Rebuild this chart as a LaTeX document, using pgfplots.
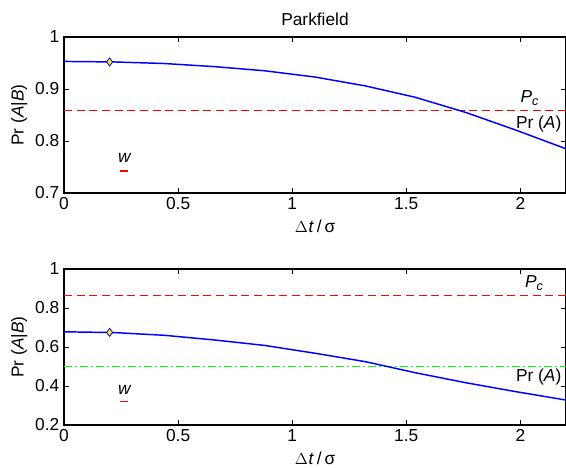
\documentclass[border=0pt]{standalone}
\usepackage{fontspec}
\setmainfont{Liberation Sans}
\usepackage{pgfplots}
\pgfplotsset{compat=1.18}
\newcommand\ff{\fontsize{13}{15}\selectfont}
\definecolor{mred}{RGB}{254,0,0}
\pgfplotsset{
  mstyle/.style={
    width=376.5pt, height=117pt, scale only axis,
    xmin=0, xmax=2.2,
    xtick={0,0.5,1,1.5,2},
    tick align=inside, major tick length=3.5pt,
    axis line style={line width=0.8pt},
    every tick/.style={black, line width=0.6pt},
    tick label style={font=\ff},
    label style={font=\ff},
    /pgf/number format/assume math mode=true,
    xlabel={$\Delta$\kern0.5pt\textit{t}\,/\,σ},
    ylabel={Pr (\textit{A}|\textit{B})},
    xlabel style={yshift=-0.5pt},
    ylabel style={yshift=-1pt},
    clip=false,
  },
}
\pgfplotstableread{
x y
0.00 0.953
0.22 0.952
0.44 0.949
0.66 0.943
0.88 0.935
1.10 0.923
1.32 0.906
1.54 0.884
1.76 0.855
1.98 0.821
2.20 0.785
}\toptable
\pgfplotstableread{
x y
0.00 0.678
0.22 0.674
0.44 0.660
0.66 0.636
0.88 0.608
1.10 0.568
1.32 0.525
1.54 0.468
1.76 0.417
1.98 0.371
2.20 0.328
}\bottable
\begin{document}
\begin{tikzpicture}
\begin{axis}[mstyle, at={(0pt,174pt)}, anchor=south west,
  ymin=0.7, ymax=1, ytick={0.7,0.8,0.9,1},
  title={Parkfield}, title style={font=\ff, yshift=-1pt}]
\addplot[color=mred, line width=0.8pt, dash pattern=on 6pt off 3.5pt] coordinates {(0,0.858) (2.2,0.858)};
\addplot[color=blue, line width=1.1pt] table[x=x,y=y]{\toptable};
\addplot[only marks, mark=diamond*, mark size=3pt, mark options={fill=yellow, draw=blue, line width=0.6pt}] coordinates {(0.2,0.952)};
\addplot[color=mred, line width=1.3pt] coordinates {(0.245,0.743) (0.28,0.743)};
\node[font=\ff\itshape] at (axis cs:0.265,0.768) {w};
\node[font=\ff] at (axis cs:2.04,0.883) {\textit{P}\raisebox{-0.35ex}{\fontsize{9.5}{11}\selectfont\textit{c}}};
\node[font=\ff, anchor=east] at (axis cs:2.2,0.833) {Pr (\textit{A})};
\end{axis}
\begin{axis}[mstyle, at={(0pt,0pt)}, anchor=south west,
  ymin=0.2, ymax=1, ytick={0.2,0.4,0.6,0.8,1}]
\addplot[color=mred, draw opacity=0.99, line width=0.8pt, dash pattern=on 6pt off 3.5pt] coordinates {(0,0.862) (2.2,0.862)};
\addplot[color=green, line width=0.8pt, dash pattern=on 6pt off 2.5pt on 1pt off 2.5pt] coordinates {(0,0.5) (2.2,0.5)};
\addplot[color=blue, line width=1.1pt] table[x=x,y=y]{\bottable};
\addplot[only marks, mark=diamond*, mark size=3pt, mark options={fill=yellow, draw=blue, line width=0.6pt}] coordinates {(0.2,0.675)};
\addplot[color=mred, draw opacity=0.99, line width=1.3pt] coordinates {(0.245,0.32) (0.28,0.32)};
\node[font=\ff\itshape] at (axis cs:0.265,0.382) {w};
\node[font=\ff] at (axis cs:2.06,0.928) {\textit{P}\raisebox{-0.35ex}{\fontsize{9.5}{11}\selectfont\textit{c}}};
\node[font=\ff, anchor=east] at (axis cs:2.2,0.448) {Pr (\textit{A})};
\end{axis}
\pgfresetboundingbox
\path (-48pt,-31.5pt) rectangle (376.5pt,318.75pt);
\end{tikzpicture}
\end{document}
